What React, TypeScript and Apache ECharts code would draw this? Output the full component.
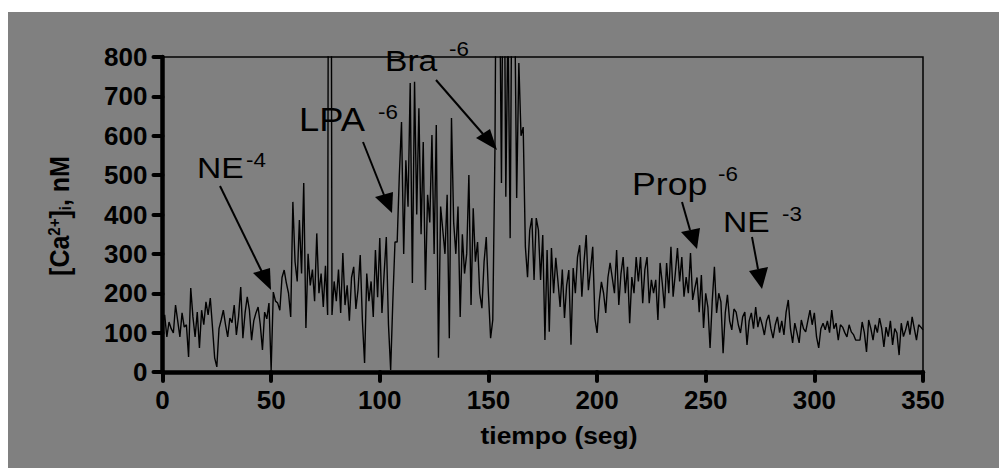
import React, { useEffect, useRef } from "react";
import * as echarts from "echarts";

// time (s) tick labels and axis ranges
const xTicks = [0, 50, 100, 150, 200, 250, 300, 350];
const yTicks = [0, 100, 200, 300, 400, 500, 600, 700, 800];

// [Ca2+]i (nM) sampled every 1 s, split by protocol phase
const baseline = [
  120, 145, 89, 127, 110, 99, 170, 130, 89, 150, 114, 120, 38, 213, 140, 89, 152, 61, 157, 120,
  178, 145, 188, 114, 36, 13, 110, 132, 157, 120, 89, 137, 125, 170, 94, 140, 216, 86, 150, 191,
  157, 81, 130, 150, 165, 120, 56, 152, 135, 175, 5, 203, 180,
];
const afterNE4 = [
  175, 157, 240, 259, 226, 200, 140, 432, 280, 230, 386, 250, 480, 112, 300, 220, 260, 180, 352, 200,
  250, 165, 270, 145, 3000, 145, 230, 180, 260, 150, 302, 170, 220, 130, 240, 267, 160, 210, 297, 130,
  23, 250, 180, 230, 140, 310, 190, 340, 150, 250, 343, 120, 5, 180, 330,
];
const afterLPA = [
  330, 500, 635, 300, 538, 420, 734, 226, 737, 400, 670, 350, 584, 208, 450, 380, 602, 300, 627, 36,
  420, 360, 300, 450, 86, 645, 380, 300, 420, 140, 350, 250, 300, 500, 170, 416, 280, 330, 200, 162,
  280, 343, 200, 86, 132,
];
const afterBra = [
  563, 1500, 1100, 480, 1300, 445, 900, 340, 1200, 1000, 442, 785, 600, 622, 318, 241, 360, 391, 234, 391,
  361, 234, 348, 81, 310, 102, 315, 200, 290, 230, 165, 260, 137, 220, 259, 69, 264, 200, 292, 322,
  191, 280, 348, 208, 260, 318, 137, 99, 180, 229, 200, 150, 240, 277, 239, 200, 310, 170, 250, 292,
  200, 267, 124, 241, 200, 292, 230, 292, 175, 260, 292, 175, 234, 200, 234, 132, 277, 226, 162, 277,
  200, 318, 191, 250, 315, 230, 292, 191, 241, 200, 302, 183, 213, 240, 152, 246, 112,
];
const afterProp = [
  200, 165, 61, 180, 267, 150, 200, 178, 48, 150, 196, 130, 107, 160, 152, 120, 99, 140, 152, 69,
  130, 150, 110, 165, 114,
];
const afterNE3 = [
  140, 120, 94, 130, 145, 110, 86, 120, 140, 100, 130, 94, 152, 183, 110, 74, 124, 100, 74, 132,
  110, 102, 130, 157, 120, 150, 89, 61, 110, 124, 107, 130, 100, 157, 110, 124, 81, 120, 114, 100,
  89, 120, 102, 95, 81, 81, 81, 127, 100, 51, 132, 110, 81, 120, 100, 137, 110, 64, 114, 90,
  130, 69, 110, 99, 43, 124, 90, 107, 130, 95, 140, 110, 81, 120, 114, 107,
];

const calcium = [...baseline, ...afterNE4, ...afterLPA, ...afterBra, ...afterProp, ...afterNE3];
const trace = calcium.map((v, i) => [i, v]);

const FONT = "'Liberation Sans', Arial, sans-serif";
const OX = 8;
const OY = 12;

function label(
  main: string,
  sup: string,
  x: number,
  y: number,
  sx: number,
  sy: number,
  size = 30,
  scale = 1.12
) {
  return [
    {
      type: "text",
      x: x - OX,
      y: y - OY,
      scaleX: scale,
      style: { text: main, fill: "#000", font: `${size}px ${FONT}`, textAlign: "left", textVerticalAlign: "middle" },
    },
    {
      type: "text",
      x: sx - OX,
      y: sy - OY,
      scaleX: 1.12,
      style: { text: sup, fill: "#000", font: `20px ${FONT}`, textAlign: "left", textVerticalAlign: "middle" },
    },
  ];
}

function arrow(x1: number, y1: number, x2: number, y2: number, b1: number[], b2: number[], tip: number[]) {
  return [
    {
      type: "line",
      shape: { x1: x1 - OX, y1: y1 - OY, x2: x2 - OX, y2: y2 - OY },
      style: { stroke: "#000", lineWidth: 2 },
    },
    {
      type: "polygon",
      shape: {
        points: [
          [b1[0] - OX, b1[1] - OY],
          [b2[0] - OX, b2[1] - OY],
          [tip[0] - OX, tip[1] - OY],
        ],
      },
      style: { fill: "#000" },
    },
  ];
}

export default function App() {
  const ref = useRef<HTMLDivElement>(null);
  useEffect(() => {
    if (!ref.current) return;
    const chart = echarts.init(ref.current, undefined, { renderer: "svg" });
    chart.setOption({
      animation: false,
      backgroundColor: "#808080",
      grid: {
        left: 154.5,
        right: 76,
        top: 45,
        bottom: 96,
        show: true,
        borderColor: "#000",
        borderWidth: 1.5,
      },
      xAxis: {
        type: "value",
        min: 0,
        max: 350,
        interval: 50,
        axisLine: { show: true, lineStyle: { color: "#000", width: 4.5 } },
        axisTick: { show: true, length: 9, lineStyle: { color: "#000", width: 4, cap: "round" } },
        axisLabel: {
          color: "#000",
          fontFamily: FONT,
          fontWeight: "bold",
          fontSize: 26,
          margin: 15,
          formatter: (v: number) => (xTicks.includes(v) ? String(v) : ""),
        },
        splitLine: { show: false },
      },
      yAxis: {
        type: "value",
        min: 0,
        max: 800,
        interval: 100,
        axisLine: { show: true, lineStyle: { color: "#000", width: 4.5 } },
        axisTick: { show: true, length: 9, lineStyle: { color: "#000", width: 4, cap: "round" } },
        axisLabel: {
          color: "#000",
          fontFamily: FONT,
          fontWeight: "bold",
          fontSize: 26,
          margin: 15,
          formatter: (v: number) => (yTicks.includes(v) ? String(v) : ""),
        },
        splitLine: { show: false },
      },
      series: [
        {
          type: "line",
          data: trace,
          showSymbol: false,
          clip: true,
          lineStyle: { color: "#000", width: 1.4 },
        },
      ],
      graphic: [
        {
          type: "text",
          x: 559 - OX,
          y: 435 - OY,
          scaleX: 1.1,
          style: {
            text: "tiempo (seg)",
            fill: "#000",
            font: `bold 24px ${FONT}`,
            textAlign: "center",
            textVerticalAlign: "middle",
          },
        },
        {
          type: "text",
          x: 60 - OX,
          y: 216 - OY,
          rotation: Math.PI / 2,
          scaleY: 1.12,
          style: {
            text: "{a|[Ca}{s|2+}{a|]}{b|i}{a|, nM}",
            fill: "#000",
            textAlign: "center",
            textVerticalAlign: "middle",
            rich: {
              a: { font: `bold 25px ${FONT}`, fill: "#000" },
              s: { font: `bold 15px ${FONT}`, fill: "#000", verticalAlign: "top", padding: [0, 0, 10, 0] },
              b: { font: `bold 15px ${FONT}`, fill: "#000", verticalAlign: "bottom", padding: [10, 0, 0, 0] },
            },
          },
        },
        ...label("NE", "-4", 197, 168, 246, 160),
        ...arrow(220, 186, 262, 272, [253, 273], [270, 268], [271, 290]),
        ...label("LPA", "-6", 299, 120, 378, 112, 33, 1.1),
        ...arrow(363, 142, 384, 195, [375, 197], [393, 192], [392, 213]),
        ...label("Bra", "-6", 385, 61, 449, 49),
        ...arrow(436, 80, 483, 134, [476, 138], [490, 129], [497, 150]),
        ...label("Prop", "-6", 632, 184, 718, 174, 31, 1.15),
        ...arrow(682, 202, 690, 230, [681, 232], [700, 228], [697, 249]),
        ...label("NE", "-3", 723, 222, 782, 214),
        ...arrow(752, 237, 758, 269, [749, 271], [768, 267], [762, 289]),
      ],
    });
    return () => chart.dispose();
  }, []);
  return (
    <div
      ref={ref}
      style={{ position: "absolute", left: 8, top: 12, width: 991, height: 456 }}
    />
  );
}
